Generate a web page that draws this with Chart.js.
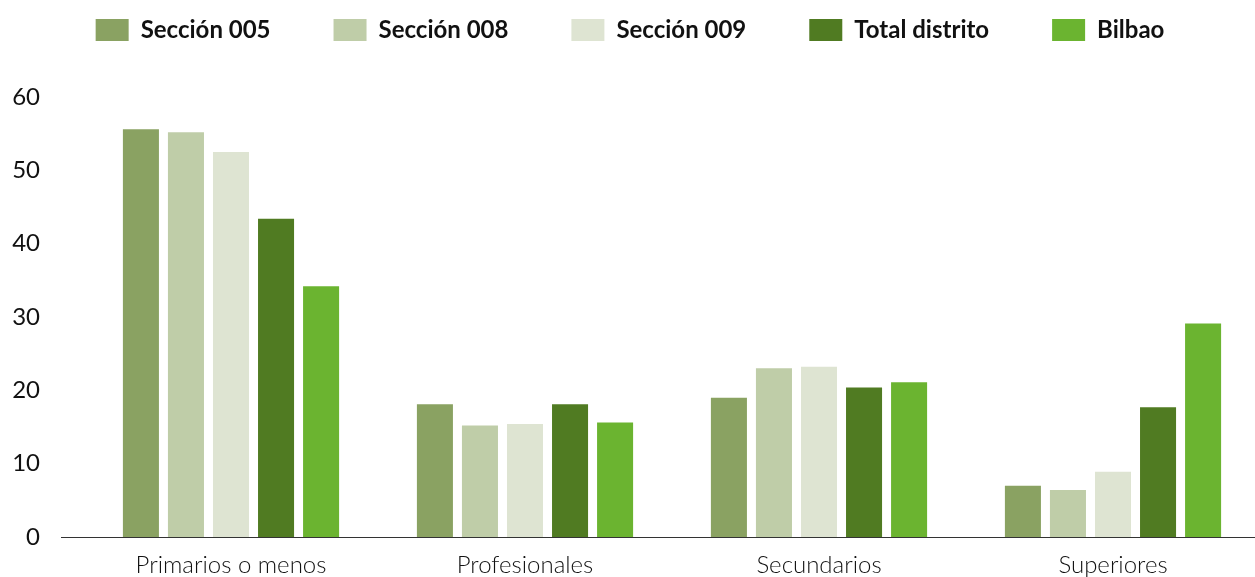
<!DOCTYPE html>
<html>
<head>
<meta charset="utf-8">
<script src="https://cdn.jsdelivr.net/npm/chart.js@4.4.1/dist/chart.umd.min.js"></script>
<style>
  html, body { margin: 0; padding: 0; background: #fff; overflow: hidden; }
  #grafico { display: block; }
</style>
</head>
<body>
<canvas id="grafico" width="1262" height="577"></canvas>
<script>
// Nivel de estudios por sección censal
var categorias = ['Primarios o menos', 'Profesionales', 'Secundarios', 'Superiores'];
var seccion005 = [55.6, 18.1, 19.0, 7.0];
var seccion008 = [55.2, 15.2, 23.0, 6.4];
var seccion009 = [52.5, 15.4, 23.2, 8.9];
var totalDistrito = [43.4, 18.1, 20.4, 17.7];
var bilbao = [34.2, 15.6, 21.1, 29.1];
var ticksY = [0, 10, 20, 30, 40, 50, 60];

var colores = ['#8aa262', '#bfcda8', '#dee4d2', '#507b22', '#6bb430'];

// Línea del eje horizontal, algo más larga que el área de barras
var lineaEje = {
    id: 'lineaEje',
    afterDatasetsDraw: function (chart) {
        var ctx = chart.ctx;
        var y = Math.round(chart.scales.y.getPixelForValue(0)) + 0.5;
        ctx.save();
        ctx.strokeStyle = '#333';
        ctx.lineWidth = 1.2;
        ctx.beginPath();
        ctx.moveTo(61, y);
        ctx.lineTo(chart.width, y);
        ctx.stroke();
        ctx.restore();
    }
};

// Más aire entre la leyenda y las barras
var espacioLeyenda = {
    id: 'espacioLeyenda',
    beforeInit: function (chart) {
        var fitOriginal = chart.legend.fit;
        chart.legend.fit = function () {
            fitOriginal.call(this);
            this.height += 45;
        };
    }
};

function serie(nombre, datos, color) {
    return {
        label: nombre,
        data: datos,
        backgroundColor: color,
        borderWidth: 0,
        categoryPercentage: 0.766,
        barPercentage: 0.8
    };
}

var ctx = document.getElementById('grafico');
new Chart(ctx, {
    type: 'bar',
    data: {
        labels: categorias,
        datasets: [
            serie('Sección 005', seccion005, colores[0]),
            serie('Sección 008', seccion008, colores[1]),
            serie('Sección 009', seccion009, colores[2]),
            serie('Total distrito', totalDistrito, colores[3]),
            serie('Bilbao', bilbao, colores[4])
        ]
    },
    options: {
        responsive: false,
        animation: false,
        layout: { padding: { left: 0, right: 2, top: -45, bottom: 0 } },
        plugins: {
            tooltip: { enabled: false },
            legend: {
                position: 'top',
                align: 'center',
                labels: {
                    boxWidth: 33,
                    boxHeight: 22,
                    padding: 63,
                    color: '#111',
                    font: { family: 'Lato', size: 24, weight: 'bold' }
                }
            }
        },
        scales: {
            x: {
                grid: { display: false, drawTicks: false },
                border: { display: false },
                ticks: {
                    color: '#111',
                    padding: 14,
                    font: { family: 'Lato', size: 24, weight: '300' }
                },
                afterFit: function (scale) { scale.height = 40; }
            },
            y: {
                min: 0,
                max: 60,
                grid: { display: false, drawTicks: false },
                border: { display: false },
                afterBuildTicks: function (scale) {
                    scale.ticks = ticksY.map(function (v) { return { value: v }; });
                },
                ticks: {
                    color: '#111',
                    padding: 44,
                    font: { family: 'Lato', size: 24 }
                },
                afterFit: function (scale) {
                    // el relleno de las etiquetas no debe empujar el área de barras
                    scale.width = 84;
                    scale.paddingTop = 12;
                    scale.paddingBottom = 12;
                }
            }
        }
    },
    plugins: [lineaEje, espacioLeyenda]
});
</script>
</body>
</html>
